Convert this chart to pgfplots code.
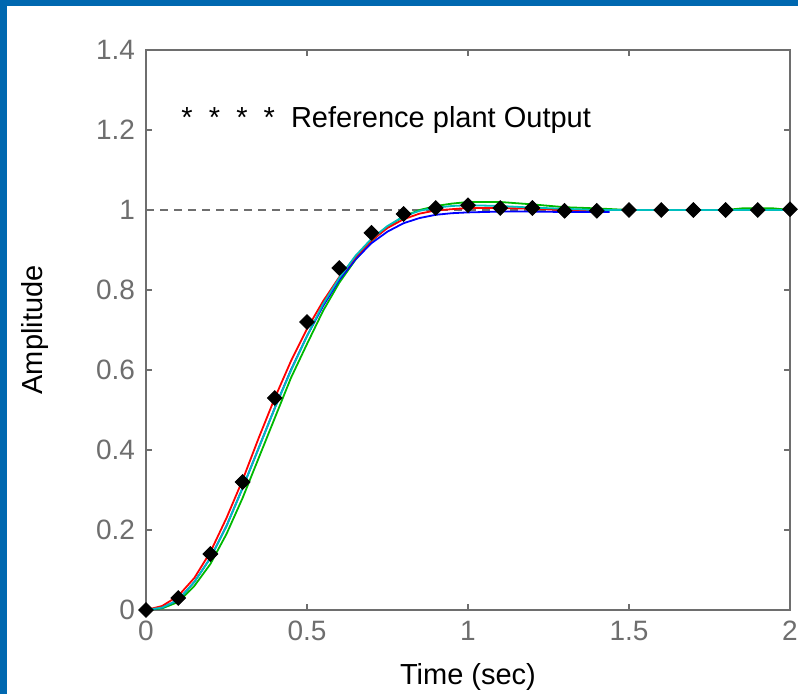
\documentclass[border=0pt]{standalone}
\usepackage{fontspec}
\setmainfont{Liberation Sans}
\usepackage{pgfplots}
\pgfplotsset{compat=1.18}

\definecolor{frameblue}{RGB}{0,104,176}
\definecolor{axgray}{RGB}{110,110,110}
\definecolor{mgreen}{RGB}{0,185,0}
\definecolor{mcyan}{RGB}{0,190,190}

\begin{document}
\begin{tikzpicture}
% 1 px of the reference = 0.5pt
\useasboundingbox (0,0) rectangle (399pt,-347pt);
\fill[white] (0,0) rectangle (399pt,-347pt);
\fill[frameblue] (0,0) rectangle (3.5pt,-347pt);
\fill[frameblue] (0,0) rectangle (399pt,-3pt);
\begin{axis}[
  at={(73pt,-305pt)}, anchor=south west,
  scale only axis,
  width=322pt, height=280pt,
  xmin=0, xmax=2, ymin=0, ymax=1.4,
  xtick={0,0.5,...,2},
  ytick={0,0.2,...,1.4},
  tick align=inside,
  major tick length=3pt,
  axis line style={axgray, line width=0.8pt},
  tick style={axgray, line width=0.8pt},
  ticklabel style={font=\fontsize{14}{16}\selectfont, text=axgray},
  /pgf/number format/assume math mode=true,
  /pgf/number format/fixed,
  /pgf/number format/precision=1,
  xticklabel style={yshift=-2pt},
  yticklabel style={xshift=-2pt},
  xlabel={Time (sec)},
  ylabel={Amplitude},
  label style={font=\fontsize{14.5}{16}\selectfont},
  xlabel style={at={(axis description cs:0.5,-0.12)}, anchor=center},
  ylabel style={at={(axis description cs:-0.172,0.5)}, anchor=center, rotate=0},
  clip=false,
]
\addplot[axgray, dashed, line width=0.8pt, dash pattern=on 4pt off 3pt] coordinates {(0,1) (2,1)};
% green
\addplot[mgreen, line width=0.9pt] coordinates {
(0,0) (0.05,0.004) (0.1,0.02) (0.15,0.06) (0.2,0.115) (0.25,0.19) (0.3,0.28)
(0.35,0.38) (0.4,0.48) (0.45,0.58) (0.5,0.665) (0.55,0.748) (0.6,0.818)
(0.65,0.875) (0.7,0.922) (0.75,0.958) (0.8,0.984) (0.85,1.0) (0.9,1.01)
(0.95,1.016) (1.0,1.02) (1.1,1.02) (1.2,1.014) (1.3,1.007) (1.4,1.004)
(1.5,1.0) (1.6,1.0) (1.8,1.0) (1.85,1.004) (1.95,1.004) (2,1.0)};
% blue
\addplot[blue, line width=0.9pt] coordinates {
(0,0) (0.05,0.006) (0.1,0.025) (0.15,0.07) (0.2,0.13) (0.25,0.21) (0.3,0.305)
(0.35,0.405) (0.4,0.505) (0.45,0.6) (0.5,0.685) (0.55,0.76) (0.6,0.825)
(0.65,0.876) (0.7,0.917) (0.75,0.946) (0.8,0.967) (0.85,0.98) (0.9,0.988)
(0.95,0.992) (1.0,0.994) (1.1,0.996) (1.2,0.996) (1.3,0.995) (1.44,0.995)};
% red
\addplot[red, line width=0.9pt] coordinates {
(0,0) (0.05,0.01) (0.1,0.035) (0.15,0.08) (0.2,0.145) (0.25,0.23) (0.3,0.325)
(0.35,0.43) (0.4,0.53) (0.45,0.622) (0.5,0.703) (0.55,0.772) (0.6,0.832)
(0.65,0.882) (0.7,0.924) (0.75,0.955) (0.8,0.977) (0.85,0.991) (0.9,0.999)
(1.0,1.005) (1.1,1.005) (1.2,1.003) (1.3,1.0) (1.5,1.0) (2,1.0)};
% cyan
\addplot[mcyan, line width=0.9pt] coordinates {
(0,0) (0.05,0.006) (0.1,0.025) (0.15,0.07) (0.2,0.13) (0.25,0.21) (0.3,0.305)
(0.35,0.405) (0.4,0.505) (0.45,0.598) (0.5,0.685) (0.55,0.765) (0.6,0.83)
(0.65,0.885) (0.7,0.928) (0.75,0.96) (0.8,0.984) (0.85,0.998) (0.9,1.006)
(0.95,1.01) (1.0,1.012) (1.1,1.01) (1.2,1.006) (1.3,1.003) (1.4,1.0) (2,1.0)};
% reference plant output
\addplot[only marks, mark=square*, mark size=2.6pt, mark options={rotate=45}, black] coordinates {
(0,0) (0.1,0.03) (0.2,0.14) (0.3,0.32) (0.4,0.53) (0.5,0.72) (0.6,0.855)
(0.7,0.943) (0.8,0.99) (0.9,1.005) (1.0,1.012) (1.1,1.005) (1.2,1.005)
(1.3,0.998) (1.4,0.998) (1.5,1.0) (1.6,1.0) (1.7,1.0) (1.8,1.0) (1.9,1.0) (2.0,1.002)};
\node[anchor=west, inner sep=0pt, font=\fontsize{14.5}{16}\selectfont]
  at (axis cs:0.109,1.225) {*\ \ *\ \ *\ \ *\ \ Reference plant Output};
\end{axis}
\end{tikzpicture}
\end{document}
